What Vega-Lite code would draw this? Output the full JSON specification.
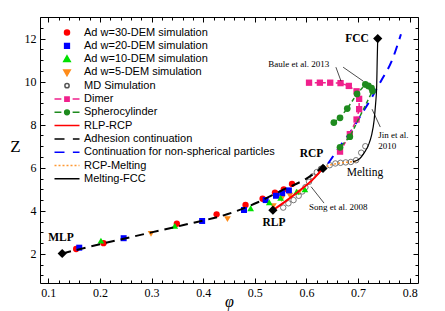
{
  "$schema": "https://vega.github.io/schema/vega-lite/v6.json",
  "width": 378,
  "height": 266,
  "autosize": "none",
  "padding": {"left": 40, "top": 17, "right": 27, "bottom": 28},
  "background": "white",
  "config": {
    "view": {"stroke": "black", "strokeWidth": 1},
    "axis": {"labelFont": "Liberation Serif", "labelFontSize": 12, "labelColor": "black", "tickColor": "black", "tickWidth": 1, "domain": false, "grid": false, "titleFont": "Liberation Serif", "titleColor": "black", "titleFontWeight": "normal", "labelOverlap": false, "labelFlush": false, "labelBound": false},
    "legend": {"labelFont": "Liberation Sans", "labelFontSize": 11, "labelColor": "black", "padding": 0, "labelLimit": 300}
  },
  "datasets": {
    "pts": [
      {"series": "Ad w=30-DEM simulation", "phi": 0.154, "Z": 2.23},
      {"series": "Ad w=30-DEM simulation", "phi": 0.207, "Z": 2.5},
      {"series": "Ad w=30-DEM simulation", "phi": 0.349, "Z": 3.4},
      {"series": "Ad w=30-DEM simulation", "phi": 0.426, "Z": 3.84},
      {"series": "Ad w=30-DEM simulation", "phi": 0.482, "Z": 4.27},
      {"series": "Ad w=30-DEM simulation", "phi": 0.515, "Z": 4.56},
      {"series": "Ad w=30-DEM simulation", "phi": 0.539, "Z": 4.85},
      {"series": "Ad w=30-DEM simulation", "phi": 0.556, "Z": 5.0},
      {"series": "Ad w=30-DEM simulation", "phi": 0.572, "Z": 5.25},
      {"series": "Ad w=20-DEM simulation", "phi": 0.160, "Z": 2.29},
      {"series": "Ad w=20-DEM simulation", "phi": 0.246, "Z": 2.73},
      {"series": "Ad w=20-DEM simulation", "phi": 0.398, "Z": 3.53},
      {"series": "Ad w=20-DEM simulation", "phi": 0.479, "Z": 4.04},
      {"series": "Ad w=20-DEM simulation", "phi": 0.521, "Z": 4.5},
      {"series": "Ad w=20-DEM simulation", "phi": 0.541, "Z": 4.7},
      {"series": "Ad w=20-DEM simulation", "phi": 0.553, "Z": 4.82},
      {"series": "Ad w=20-DEM simulation", "phi": 0.566, "Z": 4.95},
      {"series": "Ad w=10-DEM simulation", "phi": 0.202, "Z": 2.62},
      {"series": "Ad w=10-DEM simulation", "phi": 0.345, "Z": 3.3},
      {"series": "Ad w=10-DEM simulation", "phi": 0.492, "Z": 4.12},
      {"series": "Ad w=10-DEM simulation", "phi": 0.528, "Z": 4.4},
      {"series": "Ad w=10-DEM simulation", "phi": 0.55, "Z": 4.6},
      {"series": "Ad w=10-DEM simulation", "phi": 0.581, "Z": 4.89},
      {"series": "Ad w=10-DEM simulation", "phi": 0.597, "Z": 5.0},
      {"series": "Ad w=5-DEM simulation", "phi": 0.299, "Z": 2.93},
      {"series": "Ad w=5-DEM simulation", "phi": 0.447, "Z": 3.62},
      {"series": "Ad w=5-DEM simulation", "phi": 0.536, "Z": 4.22},
      {"series": "Ad w=5-DEM simulation", "phi": 0.552, "Z": 4.55},
      {"series": "Ad w=5-DEM simulation", "phi": 0.568, "Z": 4.7},
      {"series": "Ad w=5-DEM simulation", "phi": 0.585, "Z": 4.85},
      {"series": "MD Simulation", "phi": 0.555, "Z": 4.15},
      {"series": "MD Simulation", "phi": 0.565, "Z": 4.35},
      {"series": "MD Simulation", "phi": 0.575, "Z": 4.5},
      {"series": "MD Simulation", "phi": 0.585, "Z": 4.7},
      {"series": "MD Simulation", "phi": 0.592, "Z": 4.9},
      {"series": "MD Simulation", "phi": 0.598, "Z": 5.1},
      {"series": "MD Simulation", "phi": 0.605, "Z": 5.35},
      {"series": "MD Simulation", "phi": 0.612, "Z": 5.6},
      {"series": "MD Simulation", "phi": 0.62, "Z": 5.8},
      {"series": "MD Simulation", "phi": 0.628, "Z": 5.95},
      {"series": "MD Simulation", "phi": 0.645, "Z": 6.12},
      {"series": "MD Simulation", "phi": 0.656, "Z": 6.2},
      {"series": "MD Simulation", "phi": 0.666, "Z": 6.23},
      {"series": "MD Simulation", "phi": 0.676, "Z": 6.25},
      {"series": "MD Simulation", "phi": 0.686, "Z": 6.27},
      {"series": "MD Simulation", "phi": 0.696, "Z": 6.35},
      {"series": "MD Simulation", "phi": 0.706, "Z": 6.7},
      {"series": "MD Simulation", "phi": 0.714, "Z": 7.0}
    ],
    "dimer": [
      {"i": 1, "phi": 0.665, "Z": 6.75},
      {"i": 2, "phi": 0.684, "Z": 7.56},
      {"i": 3, "phi": 0.697, "Z": 8.24},
      {"i": 4, "phi": 0.702, "Z": 8.72},
      {"i": 5, "phi": 0.702, "Z": 9.2},
      {"i": 6, "phi": 0.697, "Z": 9.55},
      {"i": 7, "phi": 0.682, "Z": 9.8},
      {"i": 8, "phi": 0.666, "Z": 9.93},
      {"i": 9, "phi": 0.646, "Z": 9.95},
      {"i": 10, "phi": 0.626, "Z": 9.95},
      {"i": 11, "phi": 0.605, "Z": 9.95}
    ],
    "sphero": [
      {"i": 1, "phi": 0.653, "Z": 8.1},
      {"i": 2, "phi": 0.665, "Z": 8.32},
      {"i": 3, "phi": 0.679, "Z": 8.75},
      {"i": 4, "phi": 0.698, "Z": 9.43},
      {"i": 5, "phi": 0.714, "Z": 9.87},
      {"i": 6, "phi": 0.72, "Z": 9.8},
      {"i": 7, "phi": 0.726, "Z": 9.7},
      {"i": 8, "phi": 0.728, "Z": 9.57},
      {"i": 9, "phi": 0.684, "Z": 7.44},
      {"i": 10, "phi": 0.665, "Z": 6.95}
    ],
    "curves": [
      {"curve": "adhesion", "i": 1, "phi": 0.127, "Z": 2.02},
      {"curve": "adhesion", "i": 2, "phi": 0.2, "Z": 2.45},
      {"curve": "adhesion", "i": 3, "phi": 0.3, "Z": 3.0},
      {"curve": "adhesion", "i": 4, "phi": 0.36, "Z": 3.33},
      {"curve": "adhesion", "i": 5, "phi": 0.46, "Z": 3.95},
      {"curve": "adhesion", "i": 6, "phi": 0.506, "Z": 4.4},
      {"curve": "adhesion", "i": 7, "phi": 0.55, "Z": 4.92},
      {"curve": "adhesion", "i": 8, "phi": 0.6, "Z": 5.5},
      {"curve": "adhesion", "i": 9, "phi": 0.642, "Z": 6.2},
      {"curve": "continuation", "i": 1, "phi": 0.642, "Z": 6.2},
      {"curve": "continuation", "i": 2, "phi": 0.665, "Z": 7.0},
      {"curve": "continuation", "i": 3, "phi": 0.685, "Z": 7.65},
      {"curve": "continuation", "i": 4, "phi": 0.707, "Z": 8.5},
      {"curve": "continuation", "i": 5, "phi": 0.725, "Z": 9.2},
      {"curve": "continuation", "i": 6, "phi": 0.746, "Z": 10.1},
      {"curve": "continuation", "i": 7, "phi": 0.765, "Z": 10.95},
      {"curve": "continuation", "i": 8, "phi": 0.783, "Z": 12.2},
      {"curve": "rlprcp", "i": 1, "phi": 0.535, "Z": 4.03},
      {"curve": "rlprcp", "i": 2, "phi": 0.56, "Z": 4.45},
      {"curve": "rlprcp", "i": 3, "phi": 0.59, "Z": 5.0},
      {"curve": "rlprcp", "i": 4, "phi": 0.612, "Z": 5.45},
      {"curve": "rlprcp", "i": 5, "phi": 0.632, "Z": 5.97},
      {"curve": "rcpmelt", "i": 1, "phi": 0.632, "Z": 5.97},
      {"curve": "rcpmelt", "i": 2, "phi": 0.645, "Z": 6.12},
      {"curve": "rcpmelt", "i": 3, "phi": 0.66, "Z": 6.2},
      {"curve": "rcpmelt", "i": 4, "phi": 0.675, "Z": 6.25},
      {"curve": "rcpmelt", "i": 5, "phi": 0.69, "Z": 6.28},
      {"curve": "rcpmelt", "i": 6, "phi": 0.7, "Z": 6.32},
      {"curve": "meltfcc", "i": 1, "phi": 0.69, "Z": 6.28},
      {"curve": "meltfcc", "i": 2, "phi": 0.703, "Z": 6.42},
      {"curve": "meltfcc", "i": 3, "phi": 0.712, "Z": 6.7},
      {"curve": "meltfcc", "i": 4, "phi": 0.72, "Z": 7.05},
      {"curve": "meltfcc", "i": 5, "phi": 0.726, "Z": 7.5},
      {"curve": "meltfcc", "i": 6, "phi": 0.731, "Z": 8.2},
      {"curve": "meltfcc", "i": 7, "phi": 0.734, "Z": 9.0},
      {"curve": "meltfcc", "i": 8, "phi": 0.736, "Z": 9.8},
      {"curve": "meltfcc", "i": 9, "phi": 0.737, "Z": 11.0},
      {"curve": "meltfcc", "i": 10, "phi": 0.738, "Z": 12.0}
    ],
    "states": [
      {"state": "MLP", "phi": 0.127, "Z": 2.02},
      {"state": "RLP", "phi": 0.535, "Z": 4.03},
      {"state": "RCP", "phi": 0.632, "Z": 5.97},
      {"state": "FCC", "phi": 0.738, "Z": 12.0}
    ],
    "boldLabels": [
      {"text": "MLP", "phi": 0.1, "Z": 2.72},
      {"text": "RLP", "phi": 0.515, "Z": 3.42},
      {"text": "RCP", "phi": 0.587, "Z": 6.64},
      {"text": "FCC", "phi": 0.675, "Z": 12.0}
    ],
    "citeLabels": [
      {"text": "Song et al. 2008", "phi": 0.605, "Z": 4.18},
      {"text": "Baule et al. 2013", "phi": 0.526, "Z": 10.82},
      {"text": "Jin et al.", "phi": 0.739, "Z": 7.52},
      {"text": "2010", "phi": 0.739, "Z": 6.99}
    ],
    "arrows": [
      {"phi": 0.634, "Z": 4.36, "phi2": 0.609, "Z2": 5.12},
      {"phi": 0.657, "Z": 10.67, "phi2": 0.667, "Z2": 10.02},
      {"phi": 0.671, "Z": 10.67, "phi2": 0.71, "Z2": 10.02},
      {"phi": 0.743, "Z": 7.89, "phi2": 0.727, "Z2": 8.72}
    ]
  },
  "layer": [
    {
      "data": {"name": "pts"},
      "transform": [{"filter": "datum.series == 'MD Simulation'"}],
      "mark": {"type": "point", "shape": "circle", "filled": false, "size": 30, "stroke": "#555555", "strokeWidth": 0.8, "opacity": 1},
      "encoding": {
        "x": {"field": "phi", "type": "quantitative", "scale": {"domain": [0.084, 0.816], "nice": false, "zero": false},
          "axis": {"orient": "bottom", "title": "φ", "titleFontStyle": "italic", "titleFontSize": 16, "titleY": 18, "titleBaseline": "middle",
            "values": [0.1, 0.2, 0.3, 0.4, 0.5, 0.6, 0.7, 0.8], "format": ".1f", "tickSize": -5, "labelPadding": 9}},
        "y": {"field": "Z", "type": "quantitative", "scale": {"domain": [0.65, 13], "nice": false, "zero": false},
          "axis": {"orient": "left", "title": "Z", "titleAngle": 0, "titleFontSize": 17, "titleX": -25, "titleY": 129, "titleAlign": "center", "titleBaseline": "middle",
            "values": [2, 4, 6, 8, 10, 12], "tickSize": -5, "labelPadding": 9}}
      }
    },
    {
      "data": {"name": "pts"},
      "transform": [{"filter": "datum.series == 'Ad w=5-DEM simulation'"}],
      "mark": {"type": "point", "shape": "triangle-down", "filled": true, "size": 45, "color": "#FF8C1A", "opacity": 1},
      "encoding": {
        "x": {"field": "phi", "type": "quantitative",
          "axis": {"orient": "bottom", "title": null, "labels": false,
            "values": [0.12,0.14,0.16,0.18,0.22,0.24,0.26,0.28,0.32,0.34,0.36,0.38,0.42,0.44,0.46,0.48,0.52,0.54,0.56,0.58,0.62,0.64,0.66,0.68,0.72,0.74,0.76,0.78], "tickSize": -3}},
        "y": {"field": "Z", "type": "quantitative",
          "axis": {"orient": "left", "title": null, "labels": false,
            "values": [1,1.5,2.5,3,3.5,4.5,5,5.5,6.5,7,7.5,8.5,9,9.5,10.5,11,11.5,12.5,13], "tickSize": -3}}
      }
    },
    {
      "data": {"name": "pts"},
      "transform": [{"filter": "datum.series == 'Ad w=30-DEM simulation'"}],
      "mark": {"type": "point", "shape": "circle", "filled": true, "size": 40, "color": "#FF0000", "opacity": 1},
      "encoding": {
        "x": {"field": "phi", "type": "quantitative",
          "axis": {"orient": "top", "title": null, "labels": false, "values": [0.1, 0.2, 0.3, 0.4, 0.5, 0.6, 0.7, 0.8], "tickSize": -5}},
        "y": {"field": "Z", "type": "quantitative",
          "axis": {"orient": "right", "title": null, "labels": false, "values": [2, 4, 6, 8, 10, 12], "tickSize": -5}}
      }
    },
    {
      "data": {"name": "pts"},
      "transform": [{"filter": "datum.series == 'Ad w=20-DEM simulation'"}],
      "mark": {"type": "point", "shape": "square", "filled": true, "size": 36, "color": "#0000FF", "opacity": 1},
      "encoding": {
        "x": {"field": "phi", "type": "quantitative",
          "axis": {"orient": "top", "title": null, "labels": false,
            "values": [0.12,0.14,0.16,0.18,0.22,0.24,0.26,0.28,0.32,0.34,0.36,0.38,0.42,0.44,0.46,0.48,0.52,0.54,0.56,0.58,0.62,0.64,0.66,0.68,0.72,0.74,0.76,0.78], "tickSize": -3}},
        "y": {"field": "Z", "type": "quantitative",
          "axis": {"orient": "right", "title": null, "labels": false,
            "values": [1,1.5,2.5,3,3.5,4.5,5,5.5,6.5,7,7.5,8.5,9,9.5,10.5,11,11.5,12.5,13], "tickSize": -3}}
      }
    },
    {
      "data": {"name": "pts"},
      "transform": [{"filter": "datum.series == 'Ad w=10-DEM simulation'"}],
      "mark": {"type": "point", "shape": "triangle-up", "filled": true, "size": 45, "color": "#00E000", "opacity": 1},
      "encoding": {"x": {"field": "phi", "type": "quantitative", "axis": null}, "y": {"field": "Z", "type": "quantitative", "axis": null}}
    },
    {
      "data": {"name": "curves"},
      "transform": [{"filter": "datum.curve == 'adhesion'"}],
      "mark": {"type": "line", "color": "black", "strokeWidth": 2, "strokeDash": [9, 6], "interpolate": "monotone"},
      "encoding": {"x": {"field": "phi", "type": "quantitative", "axis": null}, "y": {"field": "Z", "type": "quantitative", "axis": null}, "order": {"field": "i"}}
    },
    {
      "data": {"name": "curves"},
      "transform": [{"filter": "datum.curve == 'continuation'"}],
      "mark": {"type": "line", "color": "#0000FF", "strokeWidth": 2, "strokeDash": [9, 7], "interpolate": "monotone"},
      "encoding": {"x": {"field": "phi", "type": "quantitative", "axis": null}, "y": {"field": "Z", "type": "quantitative", "axis": null}, "order": {"field": "i"}}
    },
    {
      "data": {"name": "curves"},
      "transform": [{"filter": "datum.curve == 'rlprcp'"}],
      "mark": {"type": "line", "color": "#FF0000", "strokeWidth": 2, "interpolate": "monotone"},
      "encoding": {"x": {"field": "phi", "type": "quantitative", "axis": null}, "y": {"field": "Z", "type": "quantitative", "axis": null}, "order": {"field": "i"}}
    },
    {
      "data": {"name": "curves"},
      "transform": [{"filter": "datum.curve == 'rcpmelt'"}],
      "mark": {"type": "line", "color": "#FF9933", "strokeWidth": 1.5, "strokeDash": [2, 2], "interpolate": "monotone"},
      "encoding": {"x": {"field": "phi", "type": "quantitative", "axis": null}, "y": {"field": "Z", "type": "quantitative", "axis": null}, "order": {"field": "i"}}
    },
    {
      "data": {"name": "curves"},
      "transform": [{"filter": "datum.curve == 'meltfcc'"}],
      "mark": {"type": "line", "color": "black", "strokeWidth": 1.2, "interpolate": "monotone"},
      "encoding": {"x": {"field": "phi", "type": "quantitative", "axis": null}, "y": {"field": "Z", "type": "quantitative", "axis": null}, "order": {"field": "i"}}
    },
    {
      "data": {"name": "dimer"},
      "mark": {"type": "line", "color": "#F0208C", "strokeWidth": 1.5, "strokeDash": [4, 3]},
      "encoding": {"x": {"field": "phi", "type": "quantitative", "axis": null}, "y": {"field": "Z", "type": "quantitative", "axis": null}, "order": {"field": "i"}}
    },
    {
      "data": {"name": "dimer"},
      "mark": {"type": "point", "shape": "square", "filled": true, "size": 40, "color": "#F0208C", "opacity": 1},
      "encoding": {"x": {"field": "phi", "type": "quantitative", "axis": null}, "y": {"field": "Z", "type": "quantitative", "axis": null}}
    },
    {
      "data": {"name": "sphero"},
      "mark": {"type": "line", "color": "#1E8B1E", "strokeWidth": 1.5, "strokeDash": [4, 3]},
      "encoding": {"x": {"field": "phi", "type": "quantitative", "axis": null}, "y": {"field": "Z", "type": "quantitative", "axis": null}, "order": {"field": "i"}}
    },
    {
      "data": {"name": "sphero"},
      "mark": {"type": "point", "shape": "circle", "filled": true, "size": 45, "color": "#1E8B1E", "opacity": 1},
      "encoding": {"x": {"field": "phi", "type": "quantitative", "axis": null}, "y": {"field": "Z", "type": "quantitative", "axis": null}}
    },
    {
      "data": {"name": "arrows"},
      "mark": {"type": "rule", "color": "black", "strokeWidth": 0.7},
      "encoding": {"x": {"field": "phi", "type": "quantitative", "axis": null}, "y": {"field": "Z", "type": "quantitative", "axis": null}, "x2": {"field": "phi2"}, "y2": {"field": "Z2"}}
    },
    {
      "data": {"name": "states"},
      "mark": {"type": "point", "shape": "diamond", "filled": true, "size": 85, "color": "black", "opacity": 1},
      "encoding": {"x": {"field": "phi", "type": "quantitative", "axis": null}, "y": {"field": "Z", "type": "quantitative", "axis": null}}
    },
    {
      "data": {"name": "boldLabels"},
      "mark": {"type": "text", "font": "Liberation Serif", "fontSize": 11.5, "fontWeight": "bold", "align": "left", "baseline": "middle", "color": "black"},
      "encoding": {"x": {"field": "phi", "type": "quantitative", "axis": null}, "y": {"field": "Z", "type": "quantitative", "axis": null}, "text": {"field": "text"}}
    },
    {
      "data": {"values": [{"text": "Melting", "phi": 0.678, "Z": 5.76}]},
      "mark": {"type": "text", "font": "Liberation Serif", "fontSize": 11.5, "align": "left", "baseline": "middle", "color": "black"},
      "encoding": {"x": {"field": "phi", "type": "quantitative", "axis": null}, "y": {"field": "Z", "type": "quantitative", "axis": null}, "text": {"field": "text"}}
    },
    {
      "data": {"name": "citeLabels"},
      "mark": {"type": "text", "font": "Liberation Serif", "fontSize": 9, "align": "left", "baseline": "middle", "color": "black"},
      "encoding": {"x": {"field": "phi", "type": "quantitative", "axis": null}, "y": {"field": "Z", "type": "quantitative", "axis": null}, "text": {"field": "text"}}
    },
    {
      "data": {"values": [{"series": "none"}]},
      "transform": [{"filter": "datum.series != 'none'"}],
      "mark": {"type": "point", "filled": true, "opacity": 1},
      "encoding": {
        "fill": {"field": "series", "type": "nominal",
          "scale": {"domain": ["Ad w=30-DEM simulation", "Ad w=20-DEM simulation", "Ad w=10-DEM simulation", "Ad w=5-DEM simulation", "MD Simulation", "Dimer", "Spherocylinder", "RLP-RCP", "Adhesion continuation", "Continuation for non-spherical particles", "RCP-Melting", "Melting-FCC"],
            "range": ["#FF0000", "#0000FF", "#00E000", "#FF8C1A", "white", "#F0208C", "#1E8B1E", "transparent", "transparent", "transparent", "transparent", "transparent"]},
          "legend": {"title": null, "orient": "none", "legendX": 13.5, "legendY": 9, "symbolSize": 625, "symbolStrokeWidth": 1.5, "clipHeight": 13, "rowPadding": 0.3, "labelOffset": 3.5, "symbolOpacity": 1}},
        "stroke": {"field": "series", "type": "nominal",
          "scale": {"domain": ["Ad w=30-DEM simulation", "Ad w=20-DEM simulation", "Ad w=10-DEM simulation", "Ad w=5-DEM simulation", "MD Simulation", "Dimer", "Spherocylinder", "RLP-RCP", "Adhesion continuation", "Continuation for non-spherical particles", "RCP-Melting", "Melting-FCC"],
            "range": ["#FF0000", "#0000FF", "#00E000", "#FF8C1A", "#555555", "#F0208C", "#1E8B1E", "#FF0000", "black", "#0000FF", "#FF9933", "black"]},
          "legend": {"title": null, "orient": "none", "legendX": 13.5, "legendY": 9, "symbolSize": 625, "symbolStrokeWidth": 1.5, "clipHeight": 13, "rowPadding": 0.3, "labelOffset": 3.5, "symbolOpacity": 1}},
        "shape": {"field": "series", "type": "nominal",
          "scale": {"domain": ["Ad w=30-DEM simulation", "Ad w=20-DEM simulation", "Ad w=10-DEM simulation", "Ad w=5-DEM simulation", "MD Simulation", "Dimer", "Spherocylinder", "RLP-RCP", "Adhesion continuation", "Continuation for non-spherical particles", "RCP-Melting", "Melting-FCC"],
            "range": [
              "M-0.2,0A0.2,0.2,0,1,1,0.2,0A0.2,0.2,0,1,1,-0.2,0Z",
              "M-0.19,-0.19H0.19V0.19H-0.19Z",
              "M0,-0.26L0.26,0.2H-0.26Z",
              "M0,0.26L0.26,-0.2H-0.26Z",
              "M-0.17,0A0.17,0.17,0,1,1,0.17,0A0.17,0.17,0,1,1,-0.17,0Z",
              "M-1,0H-0.45M0.45,0H1M-0.17,-0.17H0.17V0.17H-0.17Z",
              "M-1,0H-0.45M0.45,0H1M-0.19,0A0.19,0.19,0,1,1,0.19,0A0.19,0.19,0,1,1,-0.19,0Z",
              "M-1,0H1",
              "M-1,0H-0.2M0.47,0H1",
              "M-1,0H-0.2M0.47,0H1",
              "M-1,0H-0.84M-0.68,0H-0.52M-0.36,0H-0.2M-0.04,0H0.12M0.28,0H0.44M0.6,0H0.76M0.92,0H1",
              "M-1,0H1"
            ]},
          "legend": {"title": null, "orient": "none", "legendX": 13.5, "legendY": 9, "symbolSize": 625, "symbolStrokeWidth": 1.5, "clipHeight": 13, "rowPadding": 0.3, "labelOffset": 3.5, "symbolOpacity": 1}}
      }
    }
  ],
  "resolve": {"axis": {"x": "independent", "y": "independent"}}
}
